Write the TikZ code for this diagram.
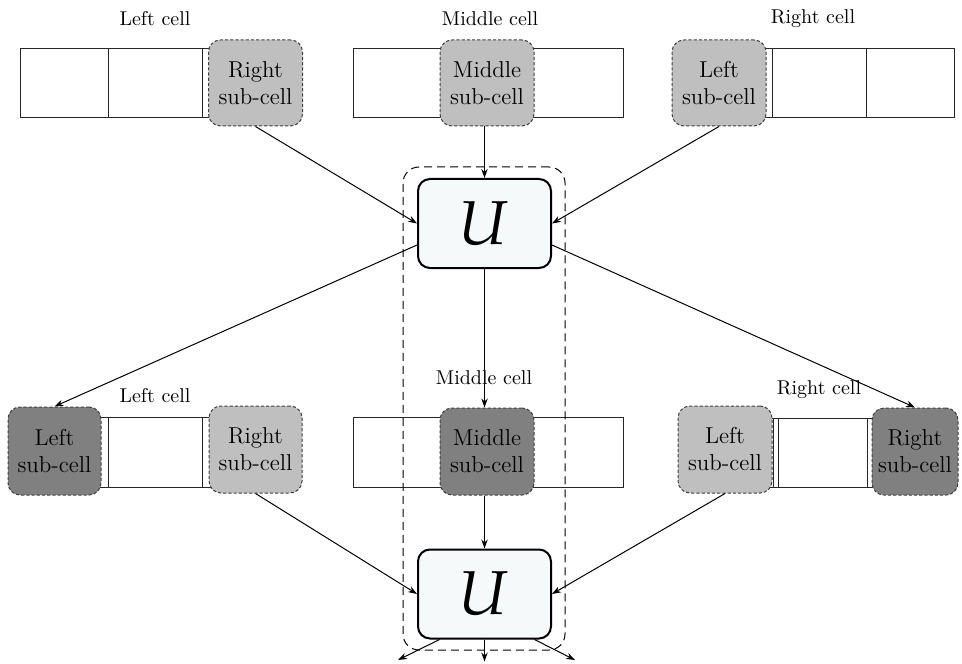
\documentclass[tikz,border=0pt]{standalone}
\usepackage{mathpazo}
\usetikzlibrary{arrows.meta,calc}
\definecolor{opfill}{rgb}{0.965,0.975,0.975}
\begin{document}
\begin{tikzpicture}[x=0.5pt,y=-0.5pt,
  cellbox/.style={draw=black!85, line width=0.45pt},
  subcell/.style={draw=black!75, line width=0.5pt, dash pattern=on 1.6pt off 1pt,
    rounded corners=6pt, minimum width=47pt, minimum height=43pt, inner sep=0pt,
    align=center, font=\fontsize{11.5}{13.5}\selectfont},
  lightsub/.style={subcell, fill=black!25},
  darksub/.style={subcell, fill=black!50},
  ubox/.style={draw=black, line width=1pt, rounded corners=6pt, fill=opfill,
    minimum width=66.5pt, minimum height=44.5pt, inner sep=0pt,
    font=\fontsize{31}{31}\selectfont},
  celllabel/.style={font=\fontsize{10}{12}\selectfont},
  flow/.style={-{Stealth[length=4.5pt,width=3.2pt]}, line width=0.5pt},
  loopbox/.style={draw=black, line width=0.5pt, dash pattern=on 4pt off 2.5pt,
    rounded corners=8pt, minimum width=81pt, minimum height=241.5pt, inner sep=0pt},
]
\useasboundingbox (0,0) rectangle (962,663);

% ---- first row of cells ----
\draw[cellbox] (20,48) rectangle (296,117) (108,48) -- (108,117) (202,48) -- (202,117);
\draw[cellbox] (353,48) rectangle (623,117);
\draw[cellbox] (684,48) rectangle (954,117) (772,48) -- (772,117) (866,48) -- (866,117);

\node[celllabel] (lab1l) at (155,19) {Left cell};
\node[celllabel] (lab1m) at (490,19) {Middle cell};
\node[celllabel] (lab1r) at (813,19) {Right cell};

\node[lightsub] (s1r) at (255.5,83) {Right\\sub-cell};
\node[lightsub] (s1m) at (487,83) {Middle\\sub-cell};
\node[lightsub] (s1l) at (719,83) {Left\\sub-cell};

% ---- second row of cells ----
\draw[cellbox] (20,417) rectangle (290,487) (108,417) -- (108,487) (202,417) -- (202,487);
\draw[cellbox] (353,417) rectangle (623,487);
\draw[cellbox] (684,418) rectangle (954,487) (773,418) -- (773,487) (778,418) -- (778,487)
  (867,418) -- (867,487) (872,418) -- (872,487);

\node[celllabel] (lab2l) at (155,396) {Left cell};
\node[celllabel] (lab2m) at (484,378) {Middle cell};
\node[celllabel] (lab2r) at (819,390) {Right cell};

\node[darksub, minimum width=46.5pt, minimum height=44pt] (s2ll) at (54.5,451) {Left\\sub-cell};
\node[lightsub, minimum width=46.5pt, minimum height=43.5pt] (s2lr) at (255.5,449.5) {Right\\sub-cell};
\node[darksub, minimum height=43.5pt] (s2m) at (487,451.5) {Middle\\sub-cell};
\node[lightsub, minimum height=43.5pt] (s2rl) at (725,449.5) {Left\\sub-cell};
\node[darksub, minimum width=43pt, minimum height=43.5pt] (s2rr) at (915,451.5) {Right\\sub-cell};

% ---- update operators ----
\node[ubox] (u1) at (484.5,223.5) {$U$};
\node[ubox] (u2) at (484.5,594) {$U$};
\node[loopbox] (loop) at (484,408.5) {};

% ---- connectors into the first operator ----
\draw[flow] (s1r.south) -- (u1.west);
\draw[flow] (s1m.south -| u1.north) -- (u1.north);
\draw[flow] (s1l.south) -- (u1.east);

% ---- connectors out of the first operator ----
\draw[flow] ([yshift=-10.75pt]u1.west) -- (s2ll.north);
\draw[flow] (u1.south) -- (u1.south |- s2m.north);
\draw[flow] ([yshift=-10.75pt]u1.east) -- (s2rr.north);

% ---- connectors into the second operator ----
\draw[flow] (s2lr.south) -- (u2.west);
\draw[flow] (s2m.south -| u2.north) -- (u2.north);
\draw[flow] (s2rl.south) -- (u2.east);

% ---- outputs of the second operator ----
\coordinate (o1) at (398,660);
\coordinate (o3) at (575,660);
\draw[flow] ([xshift=-22.5pt]u2.south) -- (o1);
\draw[flow] (u2.south) -- ++(0,22);
\draw[flow] ([xshift=25pt]u2.south) -- (o3);
\end{tikzpicture}
\end{document}
